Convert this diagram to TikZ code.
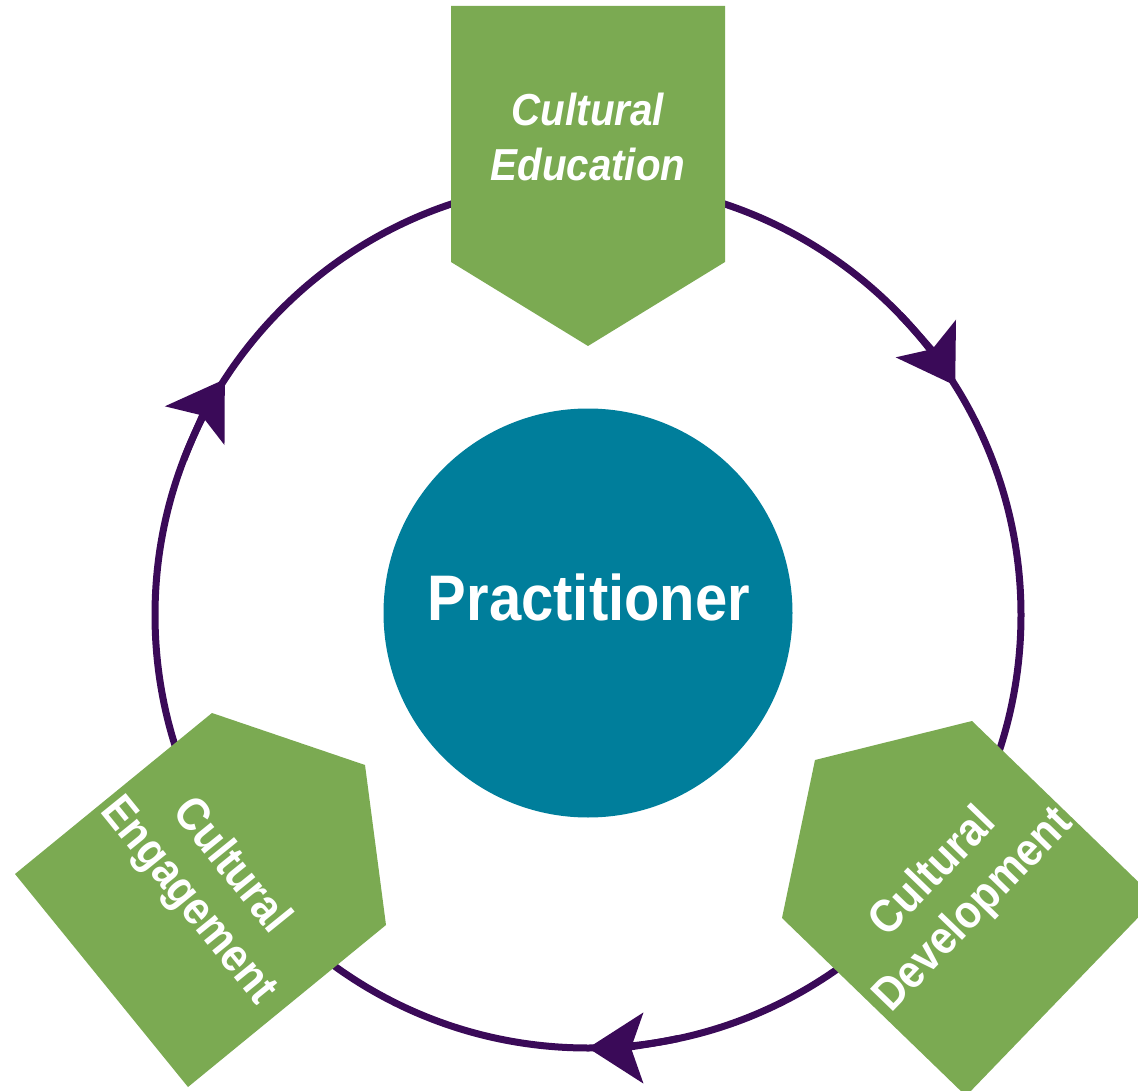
\documentclass[tikz,border=0pt]{standalone}
\usepackage{fontspec}
\setmainfont[FakeStretch=0.9]{Liberation Sans}
\usepackage{xcolor}
\usepackage{tikz}
\usetikzlibrary{arrows.meta}

\definecolor{leafgreen}{RGB}{123,170,82}
\definecolor{ringpurple}{RGB}{58,10,88}
\definecolor{practeal}{RGB}{0,126,155}

\begin{document}
\begin{tikzpicture}[x=1pt,y=1pt,
		ringline/.style={draw=ringpurple, line width=7pt},
		ringtip/.style={-{Stealth[length=55pt,width=70pt,inset=12pt]}},
		petal/.style={fill=leafgreen, draw=none},
		petaltext/.style={text=white, align=center, inner sep=0pt, font=\bfseries\fontsize{46.5}{55}\selectfont}]
		\useasboundingbox (0,0) rectangle (1138,-1091);
		\clip (0,0) rectangle (1138,-1091);
		\coordinate (ring) at (588,-615);
		\draw[ringline] (ring) circle[radius=433];
		\foreach \a in {32,147,270}
			\draw[ringline, ringtip] ([shift={(\a+12:433)}]ring) arc[start angle=\a+12, end angle=\a, radius=433];
		\node[circle, fill=practeal, minimum size=409pt, inner sep=0pt] (prac) at (588,-613) {};
		\node[text=white, inner sep=0pt, font=\bfseries\fontsize{64.4}{70}\selectfont] (praclabel) at (589,-597.5) {Practitioner};
		\fill[petal] (451,-6) -- (725,-6) -- (725,-262) -- (588,-346) -- (451,-262) -- cycle;
		\fill[petal] (815,-760) -- (972,-721) -- (1156,-899) -- (966,-1096) -- (782,-918) -- cycle;
		\fill[petal] (212,-713) -- (365,-765) -- (386,-925) -- (188,-1087) -- (15,-874) -- cycle;
		\node[petaltext, font=\bfseries\itshape\fontsize{44.8}{55}\selectfont] (edu) at (588,-137) {Cultural\\Education};
		\node[petaltext, rotate=46] (dev) at (954,-892) {Cultural\\Development};
		\node[petaltext, rotate=-51] (eng) at (209,-884) {Cultural\\Engagement};
	\end{tikzpicture}
\end{document}
